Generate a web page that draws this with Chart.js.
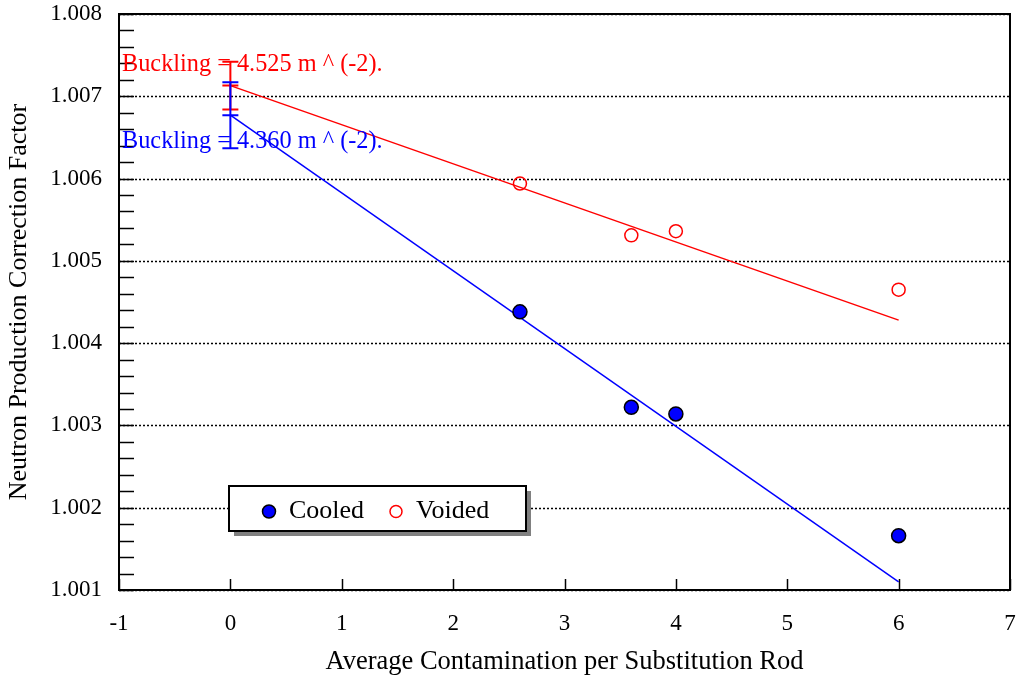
<!DOCTYPE html>
<html>
<head>
<meta charset="utf-8">
<script src="https://cdn.jsdelivr.net/npm/chart.js@4.4.0/dist/chart.umd.min.js"></script>
<style>
  html, body { margin: 0; padding: 0; background: #fff; }
</style>
</head>
<body>
<canvas id="chart" width="1021" height="682"></canvas>
<script>
// contamination per substitution rod
const rods = [2.6, 3.6, 4.0, 6.0];
const cooled = [1.00438, 1.00322, 1.00314, 1.00166];
const voided = [1.00594, 1.00531, 1.00536, 1.00465];

// fitted lines, extrapolated to zero contamination
const fitX = [0, 6];
const cooledFit = [1.00677, 1.00110];
const voidedFit = [1.00713, 1.00428];
const cooledErr = 0.00040;
const voidedErr = 0.00029;

const cooledNote = "Buckling = 4.360 m ^ (-2).";
const voidedNote = "Buckling = 4.525 m ^ (-2).";
const cooledNoteY = 1.00645;
const voidedNoteY = 1.00739;

const serif = "'Liberation Serif', 'Times New Roman', serif";
const BLUE = "#0000ff";
const RED = "#ff0000";

const pts = (xs, ys) => xs.map((x, i) => ({ x: x, y: ys[i] }));

const extras = {
  id: "extras",
  beforeDatasetsDraw(chart) {
    const { ctx, chartArea: a, scales: { x, y } } = chart;
    ctx.save();
    // dotted grid at the major y ticks
    ctx.strokeStyle = "#000";
    ctx.lineWidth = 1.5;
    ctx.setLineDash([2, 2]);
    y.ticks.forEach(t => {
      const py = Math.round(y.getPixelForValue(t.value)) + 0.5;
      ctx.beginPath();
      ctx.moveTo(a.left, py);
      ctx.lineTo(a.right, py);
      ctx.stroke();
    });
    ctx.setLineDash([]);
    // inner minor ticks on the left axis
    for (let i = 0; i <= 35; i++) {
      const py = Math.round(y.getPixelForValue(1.001 + i * 0.0002)) + 0.5;
      ctx.beginPath();
      ctx.moveTo(a.left, py);
      ctx.lineTo(a.left + 15, py);
      ctx.stroke();
    }
    // inner ticks on the bottom axis
    x.ticks.forEach(t => {
      const px = Math.round(x.getPixelForValue(t.value)) + 0.5;
      ctx.beginPath();
      ctx.moveTo(px, a.bottom);
      ctx.lineTo(px, a.bottom - 11);
      ctx.stroke();
    });
    // frame
    ctx.lineWidth = 2;
    ctx.strokeRect(a.left, a.top, a.right - a.left, a.bottom - a.top);
    ctx.restore();
  },
  afterDatasetsDraw(chart) {
    const { ctx, chartArea: a, scales: { x, y } } = chart;
    ctx.save();
    // error bars at zero contamination
    const bar = (centre, err, color) => {
      const px = x.getPixelForValue(0);
      const top = y.getPixelForValue(centre + err);
      const mid = y.getPixelForValue(centre);
      const bot = y.getPixelForValue(centre - err);
      ctx.strokeStyle = color;
      ctx.lineWidth = 2;
      ctx.beginPath();
      ctx.moveTo(px, top); ctx.lineTo(px, bot);
      [top, mid, bot].forEach(py => { ctx.moveTo(px - 8, py); ctx.lineTo(px + 8, py); });
      ctx.stroke();
    };
    bar(voidedFit[0], voidedErr, RED);
    bar(cooledFit[0], cooledErr, BLUE);

    // notes
    ctx.font = "24.3px " + serif;
    ctx.textBaseline = "middle";
    ctx.textAlign = "left";
    ctx.fillStyle = RED;
    ctx.fillText(voidedNote, a.left + 3, y.getPixelForValue(voidedNoteY));
    ctx.fillStyle = BLUE;
    ctx.fillText(cooledNote, a.left + 3, y.getPixelForValue(cooledNoteY));

    // legend box with shadow
    const bx = a.left + 110, by = a.top + 472, bw = 297, bh = 45;
    ctx.fillStyle = "#808080";
    ctx.fillRect(bx + 5, by + 5, bw, bh);
    ctx.fillStyle = "#fff";
    ctx.fillRect(bx, by, bw, bh);
    ctx.strokeStyle = "#000";
    ctx.lineWidth = 2;
    ctx.strokeRect(bx, by, bw, bh);
    const cy = by + bh / 2 + 3;
    const items = chart.data.datasets.slice(0, 2);
    const offs = [40, 167];
    items.forEach((ds, i) => {
      const mx = bx + offs[i];
      ctx.beginPath();
      ctx.arc(mx, cy, ds.pointRadius - 0.5, 0, Math.PI * 2);
      ctx.fillStyle = ds.backgroundColor;
      ctx.fill();
      ctx.lineWidth = ds.borderWidth;
      ctx.strokeStyle = ds.borderColor;
      ctx.stroke();
      ctx.fillStyle = "#000";
      ctx.font = "26px " + serif;
      ctx.fillText(ds.label, mx + 20, cy);
    });
    ctx.restore();
  }
};

new Chart(document.getElementById("chart").getContext("2d"), {
  type: "scatter",
  data: {
    datasets: [
      {
        label: "Cooled",
        data: pts(rods, cooled),
        backgroundColor: BLUE,
        borderColor: "#000",
        borderWidth: 1.5,
        pointRadius: 7,
        order: 0
      },
      {
        label: "Voided",
        data: pts(rods, voided),
        backgroundColor: "rgba(255,255,255,0)",
        borderColor: RED,
        borderWidth: 1.5,
        pointRadius: 6.5,
        order: 0
      },
      {
        label: "Cooled fit",
        data: pts(fitX, cooledFit),
        showLine: true,
        borderColor: BLUE,
        borderWidth: 1.5,
        pointRadius: 0,
        order: 1
      },
      {
        label: "Voided fit",
        data: pts(fitX, voidedFit),
        showLine: true,
        borderColor: RED,
        borderWidth: 1.5,
        pointRadius: 0,
        order: 1
      }
    ]
  },
  options: {
    responsive: false,
    animation: false,
    layout: { padding: { top: 14, right: 11, left: 0, bottom: 0 } },
    plugins: { legend: { display: false }, tooltip: { enabled: false } },
    scales: {
      x: {
        type: "linear",
        min: -1,
        max: 7,
        ticks: { stepSize: 1, color: "#000", font: { family: serif, size: 23 }, padding: 20 },
        grid: { display: false, drawTicks: false },
        border: { display: false },
        title: {
          display: true,
          text: "Average Contamination per Substitution Rod",
          color: "#000",
          font: { family: serif, size: 26.5 },
          padding: { top: 4 }
        },
        afterFit(s) { s.height = 92; s.paddingLeft = 0; s.paddingRight = 0; }
      },
      y: {
        type: "linear",
        min: 1.001,
        max: 1.008,
        ticks: {
          stepSize: 0.001,
          color: "#000",
          font: { family: serif, size: 23 },
          padding: 17,
          callback: v => v.toFixed(3)
        },
        grid: { display: false, drawTicks: false },
        border: { display: false },
        title: {
          display: true,
          text: "Neutron Production Correction Factor",
          color: "#000",
          font: { family: serif, size: 26 },
          padding: { top: 4, bottom: 0 }
        },
        afterFit(s) { s.width = 119; s.paddingTop = 0; s.paddingBottom = 0; }
      }
    }
  },
  plugins: [extras]
});
</script>
</body>
</html>
